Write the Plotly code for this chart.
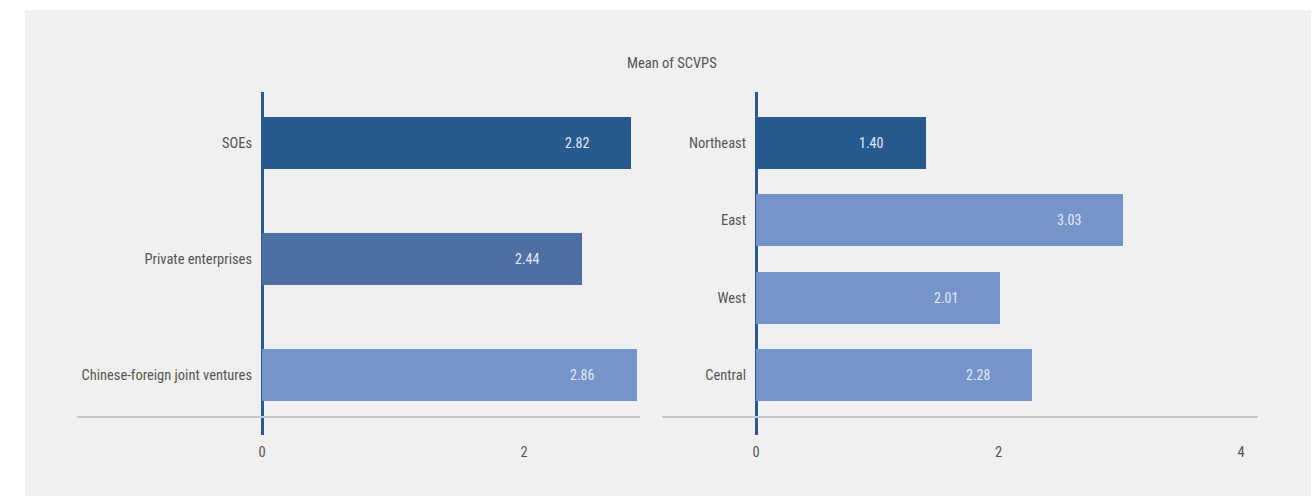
import plotly.graph_objects as go

# Mean SCVPS by ownership type
ownership = ["SOEs", "Private enterprises", "Chinese-foreign joint ventures"]
ownership_mean = [2.82, 2.44, 2.86]
ownership_colors = ["#285a8f", "#4e6fa3", "#7594ca"]

# Mean SCVPS by region
region = ["Northeast", "East", "West", "Central"]
region_mean = [1.40, 3.03, 2.01, 2.28]
region_colors = ["#285a8f", "#7594ca", "#7594ca", "#7594ca"]

W, H = 1315, 498
BG = "#f0f0f0"
TXT = "#555555"
FONT = "Liberation Sans Narrow, Roboto Condensed, Arial Narrow, Roboto, sans-serif"


def px(v):
    return v / W


def py(v):
    return (H - v) / H


fig = go.Figure()

fig.add_trace(go.Bar(
    y=ownership, x=ownership_mean, orientation="h",
    marker=dict(color=ownership_colors, line=dict(width=0)),
    width=0.45, xaxis="x", yaxis="y", hoverinfo="x+y", showlegend=False,
))
fig.add_trace(go.Bar(
    y=region, x=region_mean, orientation="h",
    marker=dict(color=region_colors, line=dict(width=0)),
    width=0.67, xaxis="x2", yaxis="y2", hoverinfo="x+y", showlegend=False,
))

annotations = []
for cat, v in zip(ownership, ownership_mean):
    annotations.append(dict(x=v, y=cat, xref="x", yref="y", text=f"{v:.2f}",
                            showarrow=False, xshift=-54,
                            font=dict(family=FONT, size=14, color="#e4eaf4")))
for cat, v in zip(region, region_mean):
    annotations.append(dict(x=v, y=cat, xref="x2", yref="y2", text=f"{v:.2f}",
                            showarrow=False, xshift=-54,
                            font=dict(family=FONT, size=14, color="#e4eaf4")))
annotations.append(dict(x=px(672), y=py(53), xref="paper", yref="paper",
                        text="Mean of SCVPS", showarrow=False,
                        font=dict(family=FONT, size=14.5, color=TXT)))

y_dom = [py(435), py(92)]
axis_common = dict(
    showgrid=False, showline=True, linecolor="#c8c8c8", linewidth=1.5,
    zeroline=True, zerolinecolor="#2a5a92", zerolinewidth=3,
    ticks="outside", ticklen=0, ticklabelstandoff=22,
    tickfont=dict(family=FONT, size=14.5, color=TXT),
    anchor="free", position=py(417), fixedrange=True,
)
yaxis_common = dict(
    showgrid=False, showline=False, zeroline=False, ticks="",
    tickfont=dict(family=FONT, size=14.5, color=TXT),
    ticklabelstandoff=10, anchor="free", domain=y_dom, fixedrange=True,
)

fig.update_layout(
    width=W, height=H,
    margin=dict(l=0, r=0, t=0, b=0),
    paper_bgcolor="white", plot_bgcolor="rgba(0,0,0,0)",
    font=dict(family=FONT, color=TXT),
    xaxis=dict(domain=[px(77), px(640)], range=[(77 - 262) / 131, (640 - 262) / 131],
               tickvals=[0, 2], **axis_common),
    yaxis=dict(categoryorder="array", categoryarray=ownership,
               range=[2.517, -0.44], position=px(262), **yaxis_common),
    xaxis2=dict(domain=[px(662), px(1258)], range=[(662 - 756) / 121.25, (1258 - 756) / 121.25],
                tickvals=[0, 2, 4], **axis_common),
    yaxis2=dict(categoryorder="array", categoryarray=region,
                range=[3.776, -0.66], position=px(756), **yaxis_common),
    shapes=[dict(type="rect", xref="paper", yref="paper",
                 x0=px(25), x1=px(1311), y0=py(496), y1=py(10),
                 fillcolor=BG, line=dict(width=0), layer="below")],
    annotations=annotations,
    bargap=0,
)

fig.write_html("out.html")
